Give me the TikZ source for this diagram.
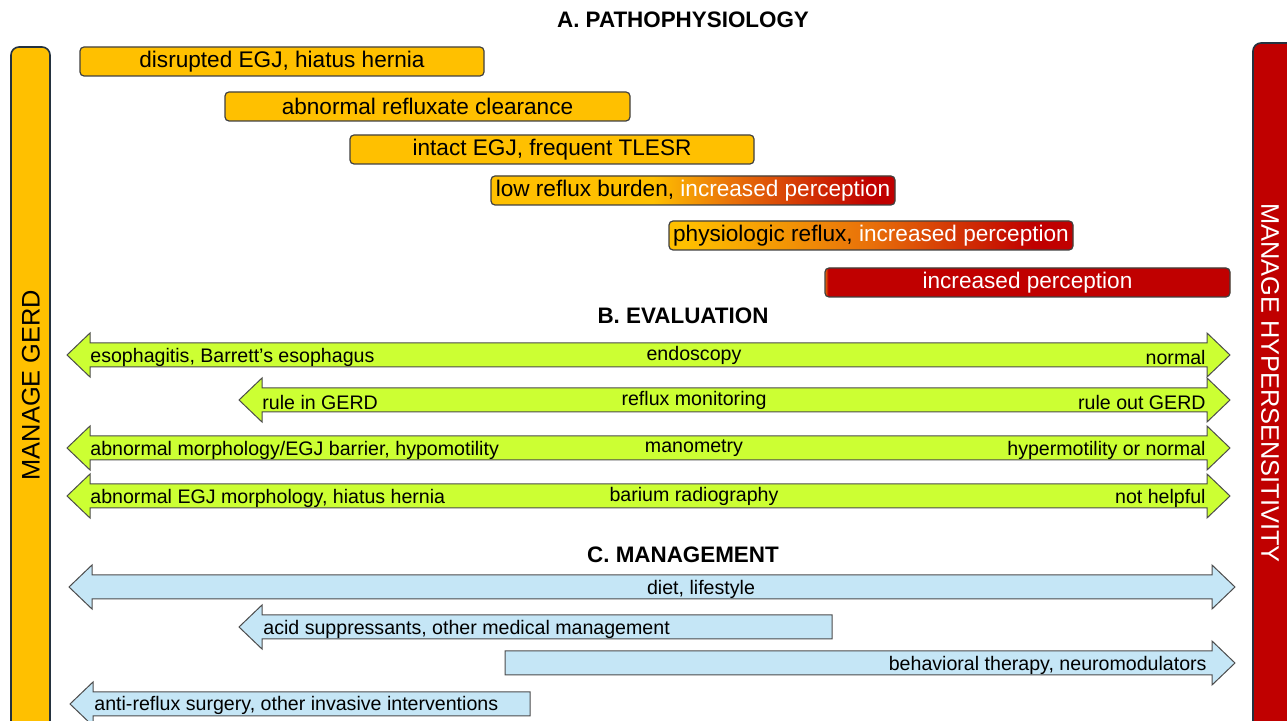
\documentclass[tikz,border=0pt]{standalone}
\usepackage{fontspec}
\setmainfont{Liberation Sans}
\usepackage{tikz}

\definecolor{gerdyellow}{HTML}{FFC000}
\definecolor{hyperred}{HTML}{C00000}
\definecolor{midorange}{HTML}{E8700A}
\definecolor{evalgreen}{HTML}{CCFF33}
\definecolor{mgmtblue}{HTML}{C5E6F6}
\definecolor{barline}{HTML}{24323F}

\pgfdeclarehorizontalshading{perceptA}{100bp}{color(0bp)=(gerdyellow); color(45bp)=(gerdyellow); color(55bp)=(midorange); color(72bp)=(hyperred); color(100bp)=(hyperred)}
\pgfdeclarehorizontalshading{perceptB}{100bp}{color(0bp)=(gerdyellow); color(27bp)=(gerdyellow); color(50bp)=(midorange); color(70bp)=(hyperred); color(100bp)=(hyperred)}
\pgfdeclarehorizontalshading{perceptC}{100bp}{color(0bp)=(midorange); color(25bp)=(midorange); color(25.4bp)=(hyperred); color(100bp)=(hyperred)}

% arrow outlines: style, left end, right end, centre line
\newcommand{\twoway}[4]{\draw[#1] (#2,#4) -- ++(23,-22) -- ++(0,10) -- ({#3-23},{#4-12}) -- ++(0,-10) -- (#3,#4) -- ++(-23,22) -- ++(0,-10) -- ({#2+23},{#4+12}) -- ++(0,10) -- cycle;}
\newcommand{\leftway}[4]{\draw[#1] (#2,#4) -- ++(23,-22) -- ++(0,10) -- (#3,{#4-12}) -- (#3,{#4+12}) -- ({#2+23},{#4+12}) -- ++(0,10) -- cycle;}
\newcommand{\rightway}[4]{\draw[#1] (#2,{#4-12}) -- ({#3-23},{#4-12}) -- ++(0,-10) -- (#3,#4) -- ++(-23,22) -- ++(0,-10) -- (#2,{#4+12}) -- cycle;}

\tikzset{
  pbox/.style={draw=black!75, line width=0.6pt, rounded corners=2pt, fill=gerdyellow,
    minimum height=14.5pt, inner sep=0pt, font=\fontsize{11.3}{13}\selectfont},
  sidebar/.style={draw=barline, line width=0.8pt, rounded corners=4pt},
  evalarrow/.style={draw=black!70, line width=0.5pt, fill=evalgreen},
  mgmtarrow/.style={draw=black!70, line width=0.5pt, fill=mgmtblue},
  heading/.style={font=\bfseries\fontsize{11.2}{13}\selectfont},
  atext/.style={inner sep=0pt, font=\fontsize{9.8}{11}\selectfont},
  bartext/.style={font=\fontsize{12.7}{15}\selectfont}
}

\begin{document}
\begin{tikzpicture}[x=0.5pt, y=-0.5pt]
  \useasboundingbox (0,0) rectangle (1287,721);
  \clip (0,0) rectangle (1287,721);

  % side bars
  \filldraw[sidebar, fill=gerdyellow] (11,47) rectangle (50,745);
  \filldraw[sidebar, fill=hyperred] (1253,43) rectangle (1310,745);
  \node[bartext, rotate=90] (gerd) at (31,385) {MANAGE GERD};
  \node[bartext, rotate=-90, text=white] (hyper) at (1270,383) {MANAGE HYPERSENSITIVITY};

  % A
  \node[heading] (titleA) at (683,20) {A. PATHOPHYSIOLOGY};
  \node[pbox, minimum width=202pt] (egj) at (282,61.5) {disrupted EGJ, hiatus hernia};
  \node[pbox, minimum width=202.5pt] (clear) at (427.5,106.5) {abnormal refluxate clearance};
  \node[pbox, minimum width=202pt] (tlesr) at (552,149.5) {intact EGJ, frequent TLESR};
  \node[pbox, shade, shading=perceptA, minimum width=202pt] (lowburden) at (693,190.5)
    {low reflux burden, \textcolor{white}{increased perception}};
  \node[pbox, shade, shading=perceptB, minimum width=202pt] (physio) at (871,235.5)
    {physiologic reflux, \textcolor{white}{increased perception}};
  \node[pbox, shade, shading=perceptC, minimum width=202.5pt, text=white] (percept) at (1027.5,282.5)
    {increased perception};

  % B
  \node[heading] (titleB) at (683,316) {B. EVALUATION};
  \twoway{evalarrow}{67}{1230}{355}
  \twoway{evalarrow}{239}{1230}{400}
  \twoway{evalarrow}{67}{1230}{448}
  \twoway{evalarrow}{67}{1230}{496}
  \node[atext, anchor=west] (endoL) at (90,357) {esophagitis, Barrett’s esophagus};
  \node[atext] (endo) at (694,355) {endoscopy};
  \node[atext, anchor=east] (endoR) at (1206,357) {normal};
  \node[atext, anchor=west] (refluxL) at (262,402) {rule in GERD};
  \node[atext] (reflux) at (694,400) {reflux monitoring};
  \node[atext, anchor=east] (refluxR) at (1206,402) {rule out GERD};
  \node[atext, anchor=west] (manoL) at (90,450) {abnormal morphology/EGJ barrier, hypomotility};
  \node[atext] (mano) at (694,448) {manometry};
  \node[atext, anchor=east] (manoR) at (1206,450) {hypermotility or normal};
  \node[atext, anchor=west] (bariumL) at (90,498) {abnormal EGJ morphology, hiatus hernia};
  \node[atext] (barium) at (694,496) {barium radiography};
  \node[atext, anchor=east] (bariumR) at (1206,498) {not helpful};

  % C
  \node[heading] (titleC) at (683,555) {C. MANAGEMENT};
  \twoway{mgmtarrow}{69}{1235}{587}
  \leftway{mgmtarrow}{239}{832}{627}
  \rightway{mgmtarrow}{505}{1235}{663}
  \leftway{mgmtarrow}{70}{530}{704}
  \node[atext] (diet) at (701,589) {diet, lifestyle};
  \node[atext, anchor=west] (acid) at (263,629) {acid suppressants, other medical management};
  \node[atext, anchor=east] (behav) at (1207,665) {behavioral therapy, neuromodulators};
  \node[atext, anchor=west] (surgery) at (94,705) {anti-reflux surgery, other invasive interventions};
\end{tikzpicture}
\end{document}
